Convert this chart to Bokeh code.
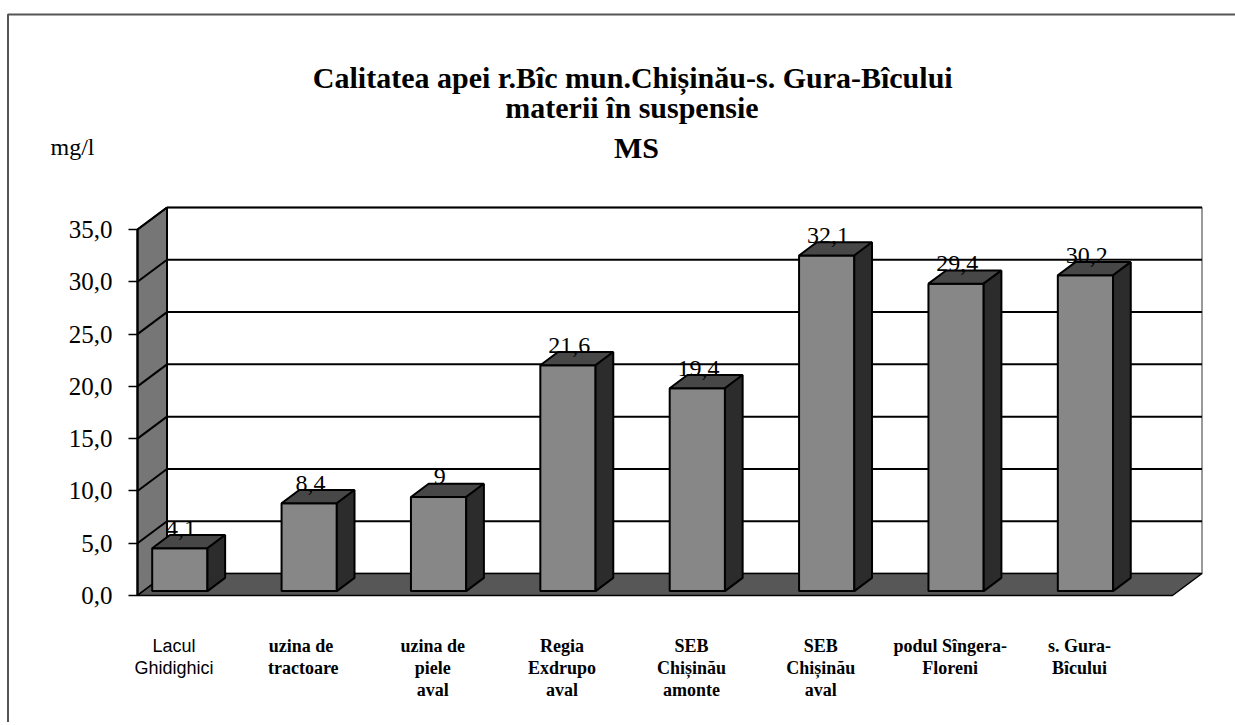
from bokeh.plotting import figure
from bokeh.models import (Range1d, LinearAxis, FixedTicker, CustomJSTickFormatter,
                          Label, ColumnDataSource)
from bokeh.embed import file_html
from bokeh.resources import INLINE
from bokeh.core.properties import value

# ---------------- data ----------------
categories = ["Lacul\nGhidighici", "uzina  de\ntractoare", "uzina de\npiele\naval",
              "Regia\nExdrupo\naval", "SEB\nChișinău\namonte", "SEB\nChișinău\naval",
              "podul Sîngera-\nFloreni", "s. Gura-\nBîcului"]
values = [4.1, 8.4, 9, 21.6, 19.4, 32.1, 29.4, 30.2]
y_ticks = [0, 5, 10, 15, 20, 25, 30, 35]
title_lines = ["Calitatea apei r.Bîc  mun.Chișinău-s. Gura-Bîcului",
               "materii în suspensie", "MS"]
unit_label = "mg/l"

# ---------------- layout / style constants ----------------
W, H = 1235, 722
PAGE = 0
AX_PX, FLOOR_PY = 137.0, 595.0          # front axis x, floor front y (page px)
PX_PER_CAT, PX_PER_UNIT = 129.375, 10.457
DX = 29.5 / PX_PER_CAT                   # depth offset (category units)
DY = 22.0 / PX_PER_UNIT                  # depth offset (value units)
F0, F1 = 0.2, 0.8                        # bar front / back depth fractions
B0, B1 = 0.068, 0.495                    # bar extent inside category
N = len(values)
YMAX = y_ticks[-1]

def X(px):
    return (px - AX_PX) / PX_PER_CAT

def Y(py):
    return (FLOOR_PY - py) / PX_PER_UNIT

p = figure(width=W, height=H, output_backend="svg", toolbar_location=None,
           x_range=Range1d(X(PAGE), X(PAGE + W)), y_range=Range1d(Y(PAGE + H), Y(PAGE)),
           x_axis_type=None, y_axis_type=None, min_border=0,
           background_fill_color="white", border_fill_color="white")
p.outline_line_color = None

# frame border lines (top and left)
p.line([X(7.5), X(7.5), X(PAGE + W)], [Y(PAGE + H), Y(14), Y(14)],
       line_color="#555555", line_width=2)

# left wall
p.patch([0, 0, DX, DX], [0, YMAX, YMAX + DY, DY], fill_color="#767676",
        line_color="black", line_width=2)
# back wall
p.patch([DX, N + DX, N + DX, DX], [DY, DY, YMAX + DY, YMAX + DY], fill_color="white",
        line_color="#7a7a7a", line_width=1.5)
# gridlines on back wall and diagonals on the left wall
gt = y_ticks[1:]
p.segment(x0=[DX] * len(gt), y0=[t + DY for t in gt], x1=[N + DX] * len(gt),
          y1=[t + DY for t in gt], line_color="black", line_width=2)
p.segment(x0=[0] * len(gt), y0=gt, x1=[DX] * len(gt), y1=[t + DY for t in gt],
          line_color="black", line_width=2)
p.line([DX, DX], [DY, YMAX + DY], line_color="black", line_width=2)
# floor
p.patch([0, N, N + DX, DX], [0, 0, DY, DY], fill_color="#575757",
        line_color="black", line_width=1.5)

# bars (3 faces)
front_l = [i + B0 + F0 * DX for i in range(N)]
front_r = [i + B1 + F0 * DX for i in range(N)]
p.quad(left=front_l, right=front_r, bottom=[F0 * DY] * N, top=[v + F0 * DY for v in values],
       fill_color="#878787", line_color="black", line_width=2)
top_xs, top_ys, side_xs, side_ys = [], [], [], []
for i, v in enumerate(values):
    x0, x1 = i + B0, i + B1
    top_xs.append([x0 + F0 * DX, x1 + F0 * DX, x1 + F1 * DX, x0 + F1 * DX])
    top_ys.append([v + F0 * DY, v + F0 * DY, v + F1 * DY, v + F1 * DY])
    side_xs.append([x1 + F0 * DX, x1 + F1 * DX, x1 + F1 * DX, x1 + F0 * DX])
    side_ys.append([F0 * DY, F1 * DY, v + F1 * DY, v + F0 * DY])
p.patches(top_xs, top_ys, fill_color="#474747", line_color="black", line_width=2)
p.patches(side_xs, side_ys, fill_color="#2c2c2c", line_color="black", line_width=2)

# value labels
lab_src = ColumnDataSource(dict(
    x=[(l + r) / 2 + 0.01 for l, r in zip(front_l, front_r)],
    y=[v + F0 * DY + 20 / PX_PER_UNIT for v in values],
    t=[f"{v:g}".replace(".", ",") for v in values]))
p.text("x", "y", "t", source=lab_src, text_align="center", text_baseline="alphabetic",
       text_font=value("Liberation Serif"), text_font_size="24px", text_color="black")

# category labels
cat_src = ColumnDataSource(dict(
    x=[i + (B0 + B1) / 2 for i in range(N)],
    y=[Y(635)] * N,
    t=categories,
    font=["Liberation Sans"] + ["Liberation Serif"] * (N - 1),
    style=["normal"] + ["bold"] * (N - 1)))
p.text("x", "y", "t", source=cat_src, text_align="center", text_baseline="top",
       text_font="font", text_font_style="style", text_font_size="18px",
       text_line_height=1.12, text_color="black")

# y axis at the front-left edge
axis = LinearAxis(fixed_location=0, bounds=(0, YMAX), ticker=FixedTicker(ticks=y_ticks),
                  formatter=CustomJSTickFormatter(code="return tick.toFixed(1).replace('.', ',')"),
                  axis_line_color="black", axis_line_width=2,
                  major_tick_line_color="black", major_tick_line_width=1.5,
                  major_tick_out=9, major_tick_in=0, minor_tick_line_color=None,
                  major_label_text_font="Liberation Serif", major_label_text_font_size="25px",
                  major_label_text_color="black", major_label_standoff=16)
p.add_layout(axis, "left")

# title and unit
for txt, cx, by in zip(title_lines, [636, 631.5, 636], [77, 107, 147]):
    p.add_layout(Label(x=X(cx), y=Y(by), text=txt, text_align="center",
                       text_baseline="alphabetic", text_font="Liberation Serif",
                       text_font_style="bold", text_font_size="30px", text_color="black"))
p.add_layout(Label(x=X(50), y=Y(146), text=unit_label, text_align="left",
                   text_baseline="alphabetic", text_font="Liberation Serif",
                   text_font_size="24px", text_color="black"))

open("out.html", "w").write(file_html(p, INLINE))
